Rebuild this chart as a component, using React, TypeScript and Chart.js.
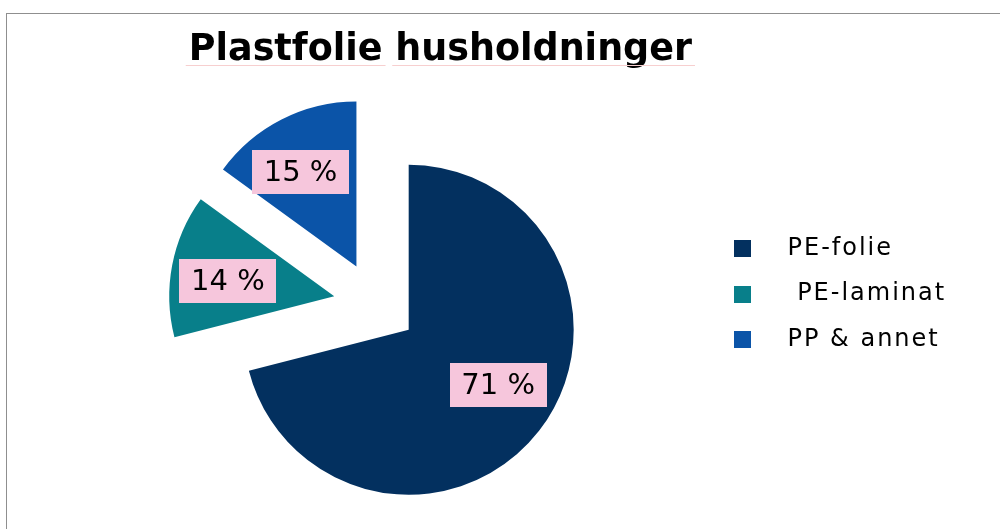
import React, { useEffect, useRef } from 'react';
import { Chart, registerables } from 'chart.js';

Chart.register(...registerables);

// ---- data ----
const CATEGORIES: string[] = ['PE-folie', ' PE-laminat', 'PP & annet'];
const SHARES: number[] = [71, 14, 15];
const COLORS: string[] = ['#03305F', '#087F8A', '#0B54A8'];
const TITLE = 'Plastfolie husholdninger';
const TITLE_WORDS: string[] = ['Plastfolie', 'husholdninger'];

// ---- styling constants ----
const FONT = '"DejaVu Sans", Verdana, sans-serif';
const TITLE_SIZE = 36.5;
const EXPLODE = 42; // exploded-slice distance (px)
const PIE_RADIUS = 165;
const LABEL_POS = 107 / 165; // fraction of radius for the value labels
const LABEL_ANGLE_SHIFT = (-4.5 * Math.PI) / 180;
const LABEL_LIFT = 3;
const LABEL_BG = '#F6C6DC';
const LABEL_SIZE = 29;
const SWATCH = 17;
const SWATCH_CANVAS_W = 21;
const LEGEND_FONT = 24;
const LEGEND_PAD = 21.5;
const LEGEND_BOX_W = 62;
const LEGEND_SPACING = '2px';
const CHART_LEFT = 59;
const CHART_RIGHT = 692;
const CANVAS_W = 1000;
const CANVAS_H = 529;

function makeSwatch(color: string): HTMLCanvasElement {
  const c = document.createElement('canvas');
  c.width = SWATCH_CANVAS_W;
  c.height = SWATCH;
  const g = c.getContext('2d')!;
  g.fillStyle = color;
  g.fillRect(0, 0, SWATCH, SWATCH);
  return c;
}

function legendFitWidth(): number {
  const g: any = document.createElement('canvas').getContext('2d')!;
  g.font = `${LEGEND_FONT}px ${FONT}`;
  g.letterSpacing = LEGEND_SPACING;
  const maxW = Math.max(...CATEGORIES.map((t) => g.measureText(t).width));
  return LEGEND_PAD + LEGEND_BOX_W + LEGEND_FONT / 2 + maxW + 10;
}

const explodePlugin = {
  id: 'explodeSlices',
  afterDatasetUpdate(chart: any, args: any) {
    const meta = args.meta || chart.getDatasetMeta(args.index);
    meta.data.forEach((arc: any) => {
      const mid = (arc.startAngle + arc.endAngle) / 2;
      arc.x += Math.cos(mid) * EXPLODE;
      arc.y += Math.sin(mid) * EXPLODE;
    });
  },
};

const sliceLabelPlugin = {
  id: 'sliceLabels',
  afterDatasetsDraw(chart: any) {
    const ctx: CanvasRenderingContext2D = chart.ctx;
    const meta = chart.getDatasetMeta(0);
    const values = chart.data.datasets[0].data as number[];
    ctx.save();
    ctx.font = `${LABEL_SIZE}px ${FONT}`;
    ctx.textAlign = 'center';
    ctx.textBaseline = 'middle';
    meta.data.forEach((arc: any, i: number) => {
      const mid = (arc.startAngle + arc.endAngle) / 2 + LABEL_ANGLE_SHIFT;
      const r = arc.outerRadius * LABEL_POS;
      const cx = arc.x + Math.cos(mid) * r;
      const cy = arc.y + Math.sin(mid) * r - LABEL_LIFT;
      const text = `${values[i]} %`;
      const w = Math.round(ctx.measureText(text).width + 23);
      const h = 44;
      ctx.fillStyle = LABEL_BG;
      ctx.fillRect(Math.round(cx - w / 2), Math.round(cy - h / 2), w, h);
      ctx.fillStyle = '#000';
      ctx.fillText(text, cx, cy + 1);
    });
    ctx.restore();
  },
};

// wider letter spacing for the legend text (reference legend text is stretched)
const legendSpacingPlugin = {
  id: 'legendSpacing',
  beforeLayout(chart: any) {
    chart.ctx.letterSpacing = LEGEND_SPACING;
  },
  afterLayout(chart: any) {
    chart.ctx.letterSpacing = '0px';
  },
  afterInit(chart: any) {
    const lg = chart.legend;
    if (!lg || lg.__spaced) return;
    const orig = lg.draw.bind(lg);
    lg.draw = (...a: any[]) => {
      const ctx: any = chart.ctx;
      const prev = ctx.letterSpacing;
      ctx.letterSpacing = LEGEND_SPACING;
      orig(...a);
      ctx.letterSpacing = prev || '0px';
    };
    lg.__spaced = true;
  },
};

// faint proofing underline below the title words, as in the reference
const titleUnderlinePlugin = {
  id: 'titleUnderline',
  afterDraw(chart: any) {
    const tb = chart.titleBlock;
    if (!tb) return;
    const ctx: CanvasRenderingContext2D = chart.ctx;
    ctx.save();
    ctx.font = `bold ${TITLE_SIZE}px ${FONT}`;
    const full = ctx.measureText(TITLE).width;
    const lineH = TITLE_SIZE * 1.2;
    const midY = tb.top + tb._padding.top + lineH / 2;
    const y = Math.round(midY + 13.6) + 0.5;
    let x = tb.right - full;
    ctx.strokeStyle = '#F7CFCF';
    ctx.lineWidth = 1;
    TITLE_WORDS.forEach((wd) => {
      const w = ctx.measureText(wd).width;
      ctx.beginPath();
      ctx.moveTo(x - 3, y);
      ctx.lineTo(x + w + 3, y);
      ctx.stroke();
      x += w + ctx.measureText(' ').width;
    });
    ctx.restore();
  },
};

export default function App() {
  const ref = useRef<HTMLCanvasElement | null>(null);

  useEffect(() => {
    if (!ref.current) return;
    const swatches = COLORS.map(makeSwatch);
    const padRight = Math.max(0, CANVAS_W - CHART_RIGHT - legendFitWidth());
    const chart = new Chart(ref.current, {
      type: 'pie',
      data: {
        labels: CATEGORIES,
        datasets: [
          {
            data: SHARES,
            backgroundColor: COLORS,
            borderWidth: 0,
            clip: false as any,
          },
        ],
      },
      options: {
        responsive: false,
        animation: false,
        radius: PIE_RADIUS,
        layout: { padding: { left: CHART_LEFT, right: padRight, top: 0, bottom: 136 } },
        plugins: {
          title: {
            display: true,
            text: TITLE,
            color: '#000',
            align: 'end',
            fullSize: false,
            font: { family: FONT, size: TITLE_SIZE, weight: 'bold', lineHeight: 1.2 },
            padding: { top: 29, bottom: 215 - 29 - TITLE_SIZE * 1.2 },
          },
          legend: {
            position: 'right',
            align: 'start',
            fullSize: false,
            labels: {
              usePointStyle: true,
              pointStyleWidth: LEGEND_BOX_W,
              padding: LEGEND_PAD,
              color: '#000',
              font: { family: FONT, size: LEGEND_FONT },
              generateLabels: (c: any) =>
                (c.data.labels as string[]).map((t, i) => ({
                  text: t,
                  fillStyle: COLORS[i],
                  strokeStyle: COLORS[i],
                  lineWidth: 0,
                  pointStyle: swatches[i],
                  hidden: !c.getDataVisibility(i),
                  index: i,
                })),
            },
          },
          tooltip: { enabled: false },
        },
      } as any,
      plugins: [explodePlugin, sliceLabelPlugin, legendSpacingPlugin, titleUnderlinePlugin],
    });
    return () => chart.destroy();
  }, []);

  return (
    <div
      style={{
        position: 'fixed',
        left: 0,
        top: 0,
        width: CANVAS_W,
        height: CANVAS_H,
        overflow: 'hidden',
        background: '#fff',
      }}
    >
      <div
        style={{
          position: 'absolute',
          left: 6,
          top: 13,
          width: 1100,
          height: 700,
          borderTop: '1px solid #8f8f8f',
          borderLeft: '1px solid #8f8f8f',
          pointerEvents: 'none',
        }}
      />
      <canvas
        ref={ref}
        width={CANVAS_W}
        height={CANVAS_H}
        style={{ position: 'absolute', left: 0, top: 0, width: CANVAS_W, height: CANVAS_H }}
      />
    </div>
  );
}
